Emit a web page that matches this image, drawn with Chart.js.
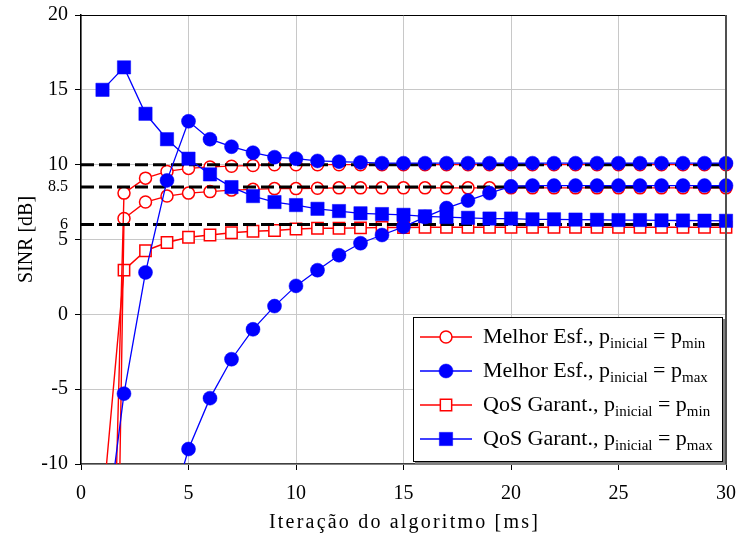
<!DOCTYPE html>
<html><head><meta charset="utf-8">
<script src="https://cdn.jsdelivr.net/npm/chart.js@4/dist/chart.umd.min.js"></script>
<style>html,body{margin:0;padding:0;background:#fff}canvas{display:block}</style>
</head><body>
<canvas id="c" width="736" height="541"></canvas>
<script>
// ---- data ----
const iterations = [1,2,3,4,5,6,7,8,9,10,11,12,13,14,15,16,17,18,19,20,21,22,23,24,25,26,27,28,29,30];
// Melhor Esforço, p_inicial = p_min (two users: target 10 dB and 8.5 dB)
const melhorMinA = [-45,8.1,9.1,9.55,9.75,9.85,9.9,9.95,10.0,10.0,10.0,10.0,10.0,10.0,10.0,10.0,10.0,10.0,10.0,10.0,10.0,10.0,10.0,10.0,10.0,10.0,10.0,10.0,10.0,10.0];
const melhorMinB = [-80,6.4,7.5,7.9,8.1,8.2,8.3,8.35,8.4,8.4,8.42,8.45,8.45,8.45,8.45,8.45,8.45,8.45,8.45,8.45,8.45,8.45,8.45,8.45,8.45,8.45,8.45,8.45,8.45,8.45];
// Melhor Esforço, p_inicial = p_max
const melhorMaxA = [-16.5,-5.3,2.8,8.95,12.9,11.7,11.2,10.8,10.5,10.4,10.25,10.2,10.15,10.1,10.1,10.1,10.1,10.1,10.1,10.1,10.1,10.1,10.1,10.1,10.1,10.1,10.1,10.1,10.1,10.1];
const melhorMaxB = [-40,-33,-25,-14,-9.0,-5.6,-3.0,-1.0,0.55,1.9,2.95,3.95,4.75,5.3,5.85,6.5,7.1,7.6,8.1,8.55,8.6,8.6,8.6,8.6,8.6,8.6,8.6,8.6,8.6,8.6];
// QoS Garantida
const qosMin = [-13,2.95,4.25,4.8,5.15,5.3,5.45,5.55,5.6,5.7,5.75,5.75,5.78,5.8,5.8,5.82,5.82,5.82,5.82,5.82,5.82,5.82,5.82,5.82,5.82,5.82,5.82,5.82,5.82,5.82];
const qosMax = [15.0,16.5,13.4,11.7,10.4,9.35,8.5,7.9,7.5,7.3,7.05,6.9,6.75,6.7,6.65,6.55,6.5,6.45,6.4,6.4,6.35,6.35,6.33,6.32,6.3,6.3,6.28,6.27,6.26,6.25];
const targetLevels = [10, 8.5, 6];
const xTicks = [0,5,10,15,20,25,30];
const yTicks = [-10,-5,0,5,10,15,20];
const extraYTicks = [8.5, 6];
const xTitle = 'Iteração do algoritmo [ms]';
const yTitle = 'SINR [dB]';
const legendEntries = [
  ['Melhor Esf., p', 'inicial', ' = p', 'min'],
  ['Melhor Esf., p', 'inicial', ' = p', 'max'],
  ['QoS Garant., p', 'inicial', ' = p', 'min'],
  ['QoS Garant., p', 'inicial', ' = p', 'max']
];

const RED = '#ff0000', BLUE = '#0000ff';
const pts = arr => iterations.map((x, i) => ({x, y: arr[i]}));
const clip = {left: 12, right: 12, top: 0, bottom: 0};

function series(arr, color, style, filled, radius, bw) {
  return {
    data: pts(arr), borderColor: color, borderWidth: bw,
    pointStyle: style, pointRadius: radius, pointHoverRadius: radius,
    pointBackgroundColor: filled ? color : '#ffffff',
    pointBorderColor: color, pointBorderWidth: filled ? 0.5 : 1.5,
    tension: 0, clip: clip, fill: false
  };
}

const datasets = [
  series(melhorMaxA, BLUE, 'circle', true, 7, 1.3),
  series(melhorMaxB, BLUE, 'circle', true, 7, 1.3),
  series(qosMax, BLUE, 'rect', true, 9.4, 1.3),
  ...targetLevels.map(l => ({
    data: [{x: xTicks[0], y: l}, {x: xTicks[xTicks.length - 1], y: l}],
    borderColor: '#000', borderWidth: 3, borderDash: [13, 5], pointRadius: 0,
    clip: clip, fill: false
  })),
  series(melhorMinA, RED, 'circle', false, 6, 1.4),
  series(melhorMinB, RED, 'circle', false, 6, 1.4),
  series(qosMin, RED, 'rect', false, 8, 1.4)
];

const isExtra = v => extraYTicks.includes(v);

const framePlugin = {
  id: 'frame',
  afterDatasetsDraw(chart) {
    const {ctx, chartArea: a} = chart;
    ctx.save();
    ctx.strokeStyle = '#000'; ctx.lineWidth = 1;
    ctx.beginPath(); ctx.moveTo(a.left, a.top + 0.5); ctx.lineTo(a.right, a.top + 0.5); ctx.stroke();
    ctx.strokeStyle = '#505050'; ctx.lineWidth = 2;
    ctx.beginPath(); ctx.moveTo(a.right, a.top); ctx.lineTo(a.right, a.bottom); ctx.stroke();
    // legend
    const L = a.right - 313, T = a.top + 302, R = a.right - 4, B = a.bottom - 3;
    ctx.fillStyle = '#808080';
    ctx.fillRect(L + 2, T + 2, R - L + 1, B - T + 1);
    ctx.fillStyle = '#ffffff';
    ctx.fillRect(L, T, R - L, B - T);
    ctx.strokeStyle = '#000'; ctx.lineWidth = 1;
    ctx.strokeRect(L + 0.5, T + 0.5, R - L, B - T);
    const styles = [
      [RED, 'circle', false, 6], [BLUE, 'circle', true, 7],
      [RED, 'rect', false, 8], [BLUE, 'rect', true, 9.4]
    ];
    legendEntries.forEach((parts, i) => {
      const cy = T + 20 + i * 34;
      const [col, ps, filled, r] = styles[i];
      ctx.strokeStyle = col; ctx.lineWidth = 1.4;
      ctx.beginPath(); ctx.moveTo(L + 7, cy); ctx.lineTo(L + 59, cy); ctx.stroke();
      ctx.fillStyle = filled ? col : '#fff';
      ctx.lineWidth = filled ? 0.5 : 1.5;
      Chart.helpers.drawPoint(ctx, {pointStyle: ps, radius: r, borderWidth: ctx.lineWidth, rotation: 0}, L + 33, cy);
      let x = L + 70;
      ctx.fillStyle = '#000'; ctx.textBaseline = 'alphabetic'; ctx.textAlign = 'left';
      parts.forEach((p, k) => {
        const sub = k % 2 === 1;
        ctx.font = sub ? '15px "Liberation Serif"' : '22px "Liberation Serif"';
        ctx.fillText(p, x, cy + (sub ? 11 : 6));
        x += ctx.measureText(p).width;
      });
    });
    // x title
    ctx.font = '20px "Liberation Serif"';
    ctx.fillStyle = '#000'; ctx.textAlign = 'center';
    try { ctx.letterSpacing = '2.2px'; } catch (e) {}
    ctx.fillText(xTitle, (a.left + a.right) / 2 + 1, 528);
    ctx.restore();
  }
};

new Chart(document.getElementById('c'), {
  type: 'line',
  data: {datasets},
  options: {
    responsive: false, animation: false,
    layout: {padding: {left: 0, right: 0, top: 15, bottom: 0}},
    plugins: {legend: {display: false}, tooltip: {enabled: false}},
    scales: {
      x: {
        type: 'linear', min: xTicks[0], max: xTicks[xTicks.length - 1],
        afterBuildTicks: s => { s.ticks = xTicks.map(v => ({value: v})); },
        afterFit: s => { s.height = 77; s.paddingRight = 10; },
        ticks: {color: '#000', font: {family: 'Liberation Serif', size: 20}, padding: 12, maxRotation: 0, autoSkip: false},
        grid: {color: '#c8c8c8', lineWidth: 1, tickLength: 6, tickColor: '#000'},
        border: {color: '#404040', width: 1.5},
        title: {display: false, text: xTitle}
      },
      y: {
        type: 'linear', min: yTicks[0], max: yTicks[yTicks.length - 1],
        afterBuildTicks: s => { s.ticks = [...yTicks, ...extraYTicks].sort((a, b) => a - b).map(v => ({value: v})); },
        afterFit: s => { s.width = 81; s.paddingTop = 0; s.paddingBottom = 0; },
        ticks: {
          color: '#000', autoSkip: false, padding: 7,
          font: c => isExtra(c.tick && c.tick.value) ? {family: 'Liberation Serif', size: 16} : {family: 'Liberation Serif', size: 20},
          callback: v => String(v)
        },
        grid: {
          color: c => isExtra(c.tick && c.tick.value) ? 'rgba(0,0,0,0)' : '#c8c8c8',
          tickColor: c => isExtra(c.tick && c.tick.value) ? 'rgba(0,0,0,0)' : '#000',
          lineWidth: 1, tickLength: 6
        },
        border: {color: '#000', width: 1.5},
        title: {display: true, text: yTitle, color: '#000', font: {family: 'Liberation Serif', size: 20}, padding: {top: 15, bottom: 0}}
      }
    }
  },
  plugins: [framePlugin]
});
</script>
</body></html>
